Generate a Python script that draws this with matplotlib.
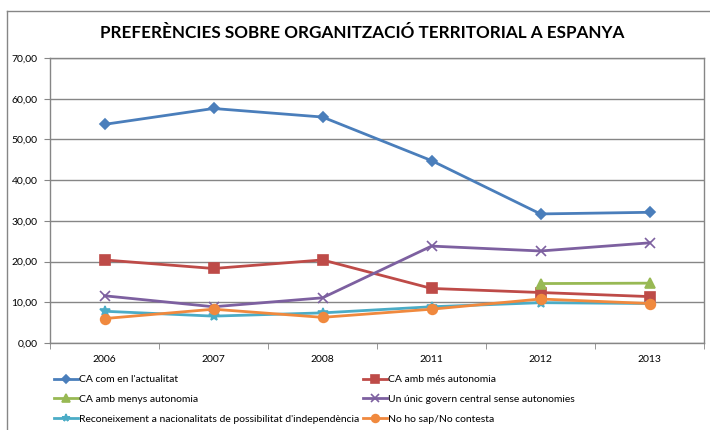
import matplotlib.pyplot as plt
from matplotlib.lines import Line2D
from matplotlib.ticker import FuncFormatter, FixedLocator

plt.rcParams['font.family'] = ['Lato', 'DejaVu Sans']

years = ["2006", "2007", "2008", "2011", "2012", "2013"]
ca_actual = [53.7, 57.6, 55.5, 44.8, 31.7, 32.1]
ca_mes = [20.4, 18.3, 20.4, 13.4, 12.4, 11.4]
ca_menys = [None, None, None, None, 14.6, 14.7]
govern_central = [11.6, 8.9, 11.1, 23.8, 22.6, 24.6]
independencia = [7.8, 6.6, 7.4, 8.9, 9.9, 9.7]
ns_nc = [6.0, 8.3, 6.3, 8.3, 10.8, 9.7]

series = [
    ("CA com en l'actualitat", ca_actual, "#4A7EBB", "D", 5),
    ("CA amb més autonomia", ca_mes, "#BE4B48", "s", 7),
    ("CA amb menys autonomia", ca_menys, "#98B954", "^", 7),
    ("Un únic govern central sense autonomies", govern_central, "#7D60A0", "x", 7),
    ("Reconeixement a nacionalitats de possibilitat d'independència", independencia, "#4BACC6", "*", 7),
    ("No ho sap/No contesta", ns_nc, "#F0893E", "o", 7),
]

fig = plt.figure(figsize=(7.1, 4.3), dpi=100)
ax = fig.add_axes([50 / 710, 87 / 430, 654 / 710, 285 / 430])

x = list(range(len(years)))
handles = []
for label, vals, color, marker, ms in series:
    xs = [i for i, v in zip(x, vals) if v is not None]
    ys = [v for v in vals if v is not None]
    h, = ax.plot(xs, ys, color=color, lw=2, marker=marker, ms=ms,
                 mew=1.2, mec=color, label=label, zorder=3)
    handles.append(h)

ax.set_xlim(-0.5, len(years) - 0.5)
ax.set_ylim(0, 70)
ax.set_yticks(range(0, 71, 10))
ax.yaxis.set_major_formatter(FuncFormatter(lambda v, p: f"{v:.2f}".replace(".", ",")))
ax.set_xticks(x)
ax.set_xticklabels(years)
ax.xaxis.set_minor_locator(FixedLocator([i - 0.5 for i in range(len(years) + 1)]))
ax.tick_params(axis='x', which='major', length=0, labelsize=7.5, pad=9)
ax.tick_params(axis='x', which='minor', length=4, color='#868686', direction='out')
ax.tick_params(axis='y', length=4, color='#868686', labelsize=7.5, pad=5)
ax.grid(axis='y', color='#868686', lw=1)
ax.set_axisbelow(True)
for s in ax.spines.values():
    s.set_color('#868686')
    s.set_linewidth(1)

fig.text(362 / 710, 1 - 33 / 430, "PREFERÈNCIES SOBRE ORGANITZACIÓ TERRITORIAL A ESPANYA",
         ha='center', va='center', fontsize=12.3, fontweight='bold')

order = [0, 2, 4, 1, 3, 5]
fig.legend([handles[i] for i in order], [series[i][0] for i in order],
           loc='upper left', bbox_to_anchor=(54 / 710, 1 - 375 / 430), ncol=2,
           frameon=False, fontsize=7.5,
           handlelength=2.3, handletextpad=0.1,
           columnspacing=0.4, labelspacing=1.0, borderaxespad=0, borderpad=0,
           markerscale=0.8)

# outer chart frame
fig.add_artist(Line2D([7 / 710, 7 / 710], [0, 1 - 11 / 430], transform=fig.transFigure,
                      color='#868686', lw=1))
fig.add_artist(Line2D([7 / 710, 1], [1 - 11 / 430, 1 - 11 / 430], transform=fig.transFigure,
                      color='#868686', lw=1))

fig.savefig("out.png", dpi=100)
